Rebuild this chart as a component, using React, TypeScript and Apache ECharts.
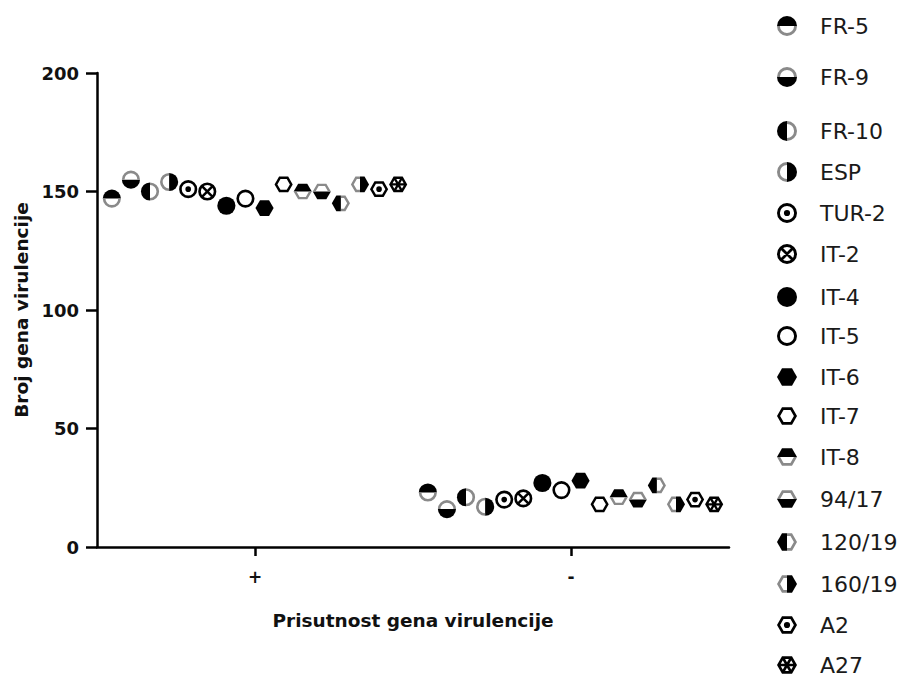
import React, { useEffect, useRef } from 'react';
import * as echarts from 'echarts';

// ---------- data ----------
const groups = ['+', '-'];
const strains = ['FR-5', 'FR-9', 'FR-10', 'ESP', 'TUR-2', 'IT-2', 'IT-4', 'IT-5', 'IT-6', 'IT-7', 'IT-8', '94/17', '120/19', '160/19', 'A2', 'A27'];
const plusValues = [147, 155, 150, 154, 151, 150, 144, 147, 143, 153, 150, 150, 145, 153, 151, 153];
const minusValues = [23, 16, 21, 17, 20, 20.5, 27, 24, 28, 18, 21, 20, 26, 18, 20, 18];
const markerShapes = ['circle', 'circle', 'circle', 'circle', 'circle', 'circle', 'circle', 'circle', 'hex', 'hex', 'hex', 'hex', 'hex', 'hex', 'hex', 'hex'];
const markerFills = ['top', 'bottom', 'left', 'right', 'dot', 'cross', 'filled', 'open', 'filled', 'open', 'top', 'bottom', 'left', 'right', 'dot', 'cross'];
const yMin = 0;
const yMax = 200;
const yInterval = 50;
const xTitle = 'Prisutnost gena virulencije';
const yTitle = 'Broj gena virulencije';

// ---------- layout ----------
const FONT = 'DejaVu Sans';
const legendCenters = [26, 77, 131, 172, 213, 254, 297, 336, 377, 416, 457, 499, 542, 584, 625, 665];
const STEP = 0.0604; // spacing of strains inside a group (fraction of a category band)

// ---------- marker paths ----------
const R = 10;
const RI = 7.1;
const HK = 6.9;
const PAD = 13;
const S3 = Math.sqrt(3) / 2;
const f = (n: number) => (Math.abs(n) < 1e-9 ? '0' : n.toFixed(3));
const padPath = `M${-PAD} ${-PAD}L${-PAD} ${-PAD}M${PAD} ${PAD}L${PAD} ${PAD}`;

function circlePath(r: number, cw: boolean) {
  const s = cw ? 1 : 0;
  return `M${f(r)} 0A${f(r)} ${f(r)} 0 1 ${s} ${f(-r)} 0A${f(r)} ${f(r)} 0 1 ${s} ${f(r)} 0Z`;
}
function polyPath(pts: number[][]) {
  return 'M' + pts.map((p) => `${f(p[0])} ${f(p[1])}`).join('L') + 'Z';
}
const hexUnit = [[1, 0], [0.5, S3], [-0.5, S3], [-1, 0], [-0.5, -S3], [0.5, -S3]];
const scalePts = (pts: number[][], k: number) => pts.map((p) => [p[0] * k, p[1] * k]);
function cwPts(pts: number[][]) {
  let a = 0;
  for (let i = 0; i < pts.length; i++) {
    const p = pts[i];
    const q = pts[(i + 1) % pts.length];
    a += p[0] * q[1] - q[0] * p[1];
  }
  return a >= 0 ? pts : pts.slice().reverse();
}
function barPath(deg: number, len: number, w: number) {
  const a = (deg * Math.PI) / 180;
  const ux = Math.cos(a), uy = Math.sin(a);
  const vx = -uy, vy = ux;
  const pts = [
    [-len * ux - w * vx, -len * uy - w * vy],
    [len * ux - w * vx, len * uy - w * vy],
    [len * ux + w * vx, len * uy + w * vy],
    [-len * ux + w * vx, -len * uy + w * vy],
  ];
  return polyPath(cwPts(pts));
}
const sideAngle: Record<string, number> = { top: -90, bottom: 90, left: 180, right: 0 };
const opposite: Record<string, string> = { top: 'bottom', bottom: 'top', left: 'right', right: 'left' };
const hexChains: Record<string, number[][]> = {
  top: [[-1, 0], [-0.5, -S3], [0.5, -S3], [1, 0]],
  bottom: [[1, 0], [0.5, S3], [-0.5, S3], [-1, 0]],
  left: [[0, -S3], [-0.5, -S3], [-1, 0], [-0.5, S3], [0, S3]],
  right: [[0, S3], [0.5, S3], [1, 0], [0.5, -S3], [0, -S3]],
};
const pt = (deg: number, r: number) => {
  const a = (deg * Math.PI) / 180;
  return `${f(r * Math.cos(a))} ${f(r * Math.sin(a))}`;
};

function outerPath(shape: string) {
  return shape === 'circle' ? circlePath(R, true) : polyPath(scalePts(hexUnit, R));
}
function ringPath(shape: string) {
  if (shape === 'circle') return circlePath(R, true) + circlePath(RI, false);
  return polyPath(scalePts(hexUnit, R)) + polyPath(scalePts(hexUnit, HK).reverse());
}
function blackPath(shape: string, fill: string) {
  let d = '';
  if (fill === 'filled') d = outerPath(shape);
  else if (fill === 'open') d = ringPath(shape);
  else if (fill === 'dot') d = ringPath(shape) + circlePath(3.1, true);
  else if (fill === 'cross') {
    const inner = shape === 'circle' ? RI : HK;
    const angles = shape === 'circle' ? [45, 135] : [0, 60, 120];
    d = ringPath(shape) + angles.map((a) => barPath(a, inner, shape === 'circle' ? 1.4 : 1.3)).join('');
  } else if (shape === 'circle') {
    const a = sideAngle[fill];
    d = `M${pt(a - 90, R)}A${R} ${R} 0 0 1 ${pt(a + 90, R)}Z`;
  } else {
    d = polyPath(scalePts(hexChains[fill], R));
  }
  return d + padPath;
}
function greyPath(shape: string, fill: string) {
  if (!(fill in sideAngle)) return null;
  const o = opposite[fill];
  let d = '';
  if (shape === 'circle') {
    const a = sideAngle[o];
    d = `M${pt(a - 90, R)}A${R} ${R} 0 0 1 ${pt(a + 90, R)}L${pt(a + 90, RI)}A${RI} ${RI} 0 0 0 ${pt(a - 90, RI)}Z`;
  } else {
    const ch = hexChains[o];
    d = polyPath(scalePts(ch, R).concat(scalePts(ch.slice().reverse(), HK)));
  }
  return d + padPath;
}

export default function App() {
  const ref = useRef<HTMLDivElement>(null);
  useEffect(() => {
    if (!ref.current) return;
    const chart = echarts.init(ref.current, undefined, { renderer: 'svg' });
    const n = strains.length;
    const series: any[] = [];
    const legends: any[] = [];
    const legendBase = {
      orient: 'vertical',
      left: 774,
      itemWidth: 26,
      itemHeight: 26,
      itemGap: 0,
      padding: 0,
      selectedMode: false,
      symbolKeepAspect: true,
      textStyle: { fontFamily: FONT, fontSize: 22, color: '#1a1a1a', padding: [0, 0, 0, 15] },
    };
    strains.forEach((name, i) => {
      const off = (i - (n - 1) / 2) * STEP;
      const data = groups.map((_, g) => [g + 0.5 + off, g === 0 ? plusValues[i] : minusValues[i]]);
      const bp = 'path://' + blackPath(markerShapes[i], markerFills[i]);
      const gp = greyPath(markerShapes[i], markerFills[i]);
      series.push({
        type: 'scatter',
        name,
        xAxisIndex: 1,
        yAxisIndex: 0,
        symbol: bp,
        symbolSize: 23.6,
        symbolKeepAspect: true,
        itemStyle: { color: '#000', opacity: 1 },
        silent: true,
        data,
      });
      legends.push({ ...legendBase, top: legendCenters[i] - 13, data: [{ name, icon: bp }] });
      if (gp) {
        const gname = name + ' ';
        series.push({
          type: 'scatter',
          name: gname,
          xAxisIndex: 1,
          yAxisIndex: 0,
          symbol: 'path://' + gp,
          symbolSize: 23.6,
          symbolKeepAspect: true,
          itemStyle: { color: '#8a8a8a', opacity: 1 },
          silent: true,
          data,
        });
        legends.push({
          ...legendBase,
          top: legendCenters[i] - 13,
          data: [{ name: gname, icon: 'path://' + gp }],
          formatter: () => '',
        });
      }
    });

    const axisLine = { show: true, lineStyle: { color: '#000', width: 2.5 } };
    chart.setOption({
      animation: false,
      backgroundColor: '#fff',
      grid: { left: 97, right: 171, top: 73, bottom: 135, containLabel: false },
      xAxis: [
        {
          type: 'category',
          data: groups,
          boundaryGap: true,
          axisLine,
          axisTick: { show: true, alignWithLabel: true, length: 9, lineStyle: { color: '#000', width: 2.5 } },
          axisLabel: { fontFamily: FONT, fontWeight: 'bold', fontSize: 17, color: '#111', margin: 21 },
          splitLine: { show: false },
          name: xTitle,
          nameLocation: 'middle',
          nameGap: 64,
          nameTextStyle: { fontFamily: FONT, fontWeight: 'bold', fontSize: 18.5, color: '#111' },
        },
        { type: 'value', min: 0, max: groups.length, show: false },
      ],
      yAxis: {
        type: 'value',
        min: yMin,
        max: yMax,
        interval: yInterval,
        axisLine,
        axisTick: { show: true, length: 11, lineStyle: { color: '#000', width: 2.5 } },
        axisLabel: { fontFamily: FONT, fontWeight: 'bold', fontSize: 18, color: '#111', margin: 18 },
        splitLine: { show: false },
        name: yTitle,
        nameLocation: 'middle',
        nameGap: 66,
        nameTextStyle: { fontFamily: FONT, fontWeight: 'bold', fontSize: 18.5, color: '#111' },
      },
      legend: legends,
      series,
    });
    return () => chart.dispose();
  }, []);
  return <div ref={ref} style={{ position: 'fixed', left: 0, top: 0, width: 900, height: 682, background: '#fff' }} />;
}
